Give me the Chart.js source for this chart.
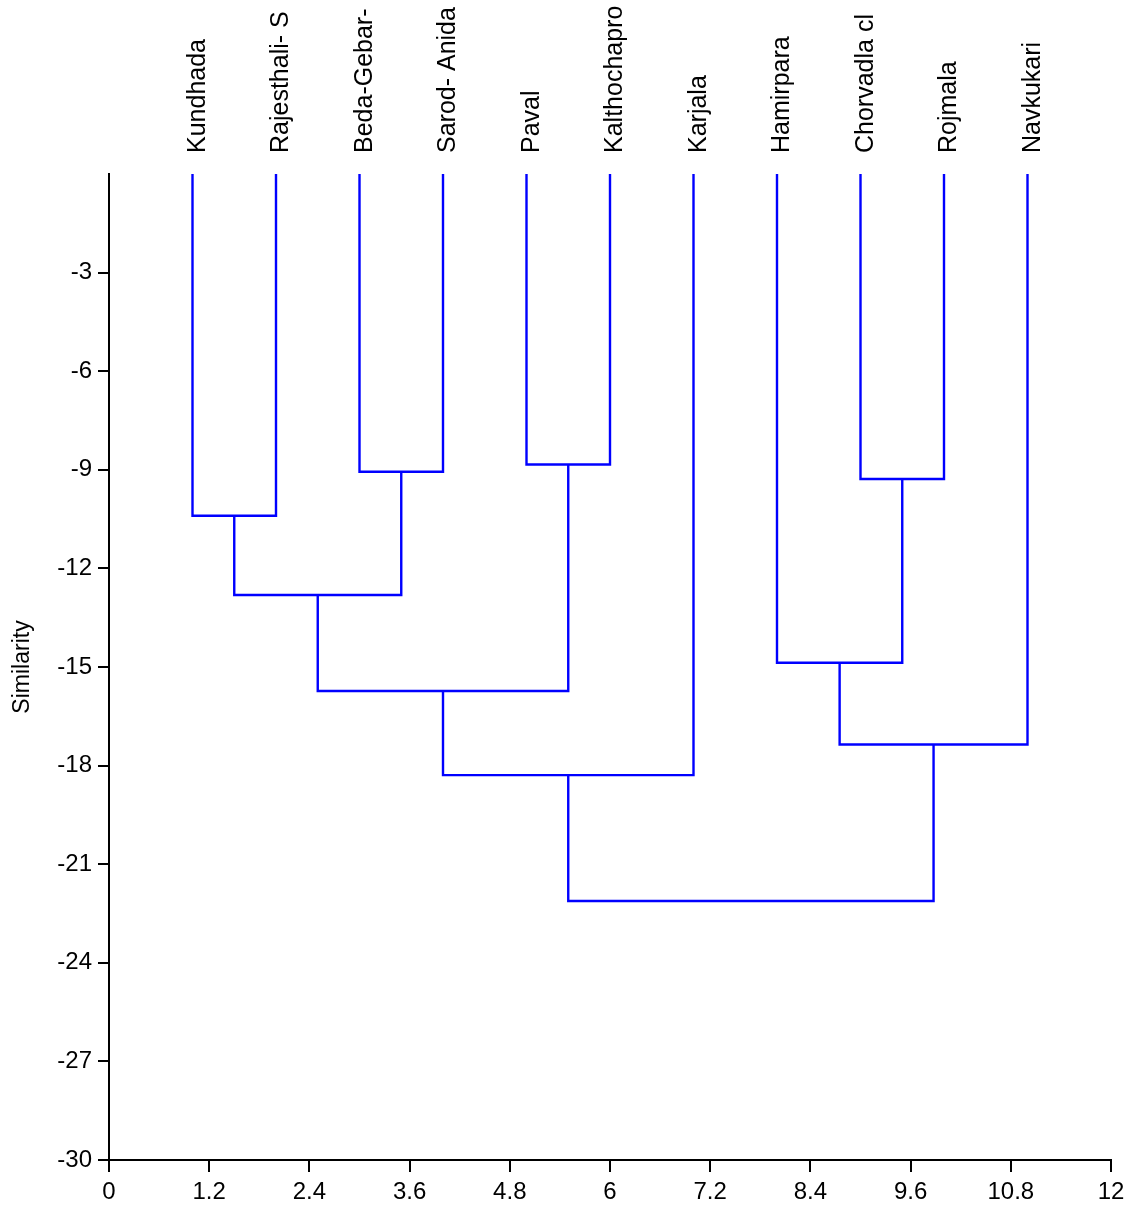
<!DOCTYPE html>
<html><head><meta charset="utf-8">
<script src="https://cdn.jsdelivr.net/npm/chart.js@4.4.1/dist/chart.umd.min.js"></script>
<style>html,body{margin:0;padding:0;background:#fff;overflow:hidden}</style>
</head><body>
<canvas id="c" width="1132" height="1209"></canvas>
<script>
// ---- data ----
const leafLabels = ['Kundhada','Rajesthali- S','Beda-Gebar-','Sarod- Anida','Paval','Kalthochapro','Karjala','Hamirpara','Chorvadla cl','Rojmala','Navkukari'];
const leafPositions = [1,2,3,4,5,6,7,8,9,10,11];
// merges: node indices (0..10 leaves, 11+ merged clusters in order)
const mergeLeft   = [0, 2, 4, 8, 11, 7, 15, 16, 17, 19];
const mergeRight  = [1, 3, 5, 9, 12, 14, 13, 10, 6, 18];
const mergeHeight = [-10.40, -9.06, -8.84, -9.28, -12.81, -14.87, -15.73, -17.36, -18.29, -22.12];
const xTickValues = [0,1.2,2.4,3.6,4.8,6,7.2,8.4,9.6,10.8,12];
const xTickLabels = ['0','1.2','2.4','3.6','4.8','6','7.2','8.4','9.6','10.8','12'];
const yTickValues = [-30,-27,-24,-21,-18,-15,-12,-9,-6,-3];
const yTickLabels = ['-30','-27','-24','-21','-18','-15','-12','-9','-6','-3'];

// ---- build link polylines ----
const nodeX = leafPositions.slice();
const nodeH = leafPositions.map(()=>0);
const datasets = [];
mergeLeft.forEach((l,i)=>{
  const r = mergeRight[i], h = mergeHeight[i];
  datasets.push({
    data:[{x:nodeX[l],y:nodeH[l]},{x:nodeX[l],y:h},{x:nodeX[r],y:h},{x:nodeX[r],y:nodeH[r]}],
    borderColor:'#0000ff', borderWidth:2.4, pointRadius:0, fill:false, tension:0, showLine:true
  });
  nodeX.push((nodeX[l]+nodeX[r])/2);
  nodeH.push(h);
});

Chart.defaults.font.family = "'Liberation Sans', Arial, Helvetica, sans-serif";
Chart.defaults.color = '#000';

const leafLabelPlugin = {
  id:'leafLabels',
  afterDraw(chart){
    const {ctx, scales:{x,y}} = chart;
    ctx.save();
    ctx.font = "25px 'Liberation Sans', Arial, sans-serif";
    ctx.fillStyle = '#000';
    ctx.textAlign = 'left';
    ctx.textBaseline = 'alphabetic';
    leafLabels.forEach((lab,i)=>{
      const px = x.getPixelForValue(leafPositions[i]);
      ctx.save();
      ctx.translate(px+12, y.top-21);
      ctx.rotate(-Math.PI/2);
      ctx.fillText(lab,0,0);
      ctx.restore();
    });
    ctx.restore();
  }
};

new Chart(document.getElementById('c'), {
  type:'scatter',
  data:{datasets},
  options:{
    responsive:false, animation:false,
    layout:{padding:{top:174,right:21,left:0,bottom:0}},
    plugins:{legend:{display:false},tooltip:{enabled:false}},
    scales:{
      x:{
        type:'linear', min:0, max:12,
        afterBuildTicks:s=>{s.ticks = xTickValues.map(v=>({value:v}));},
        afterFit:s=>{s.height = 49;},
        ticks:{callback:(v,i)=>xTickLabels[i], font:{size:24}, padding:6, maxRotation:0, autoSkip:false, color:'#000'},
        grid:{display:true, drawOnChartArea:false, drawTicks:true, tickLength:12, color:'#000', lineWidth:2},
        border:{display:true, color:'#000', width:2}
      },
      y:{
        type:'linear', min:-30, max:0,
        afterBuildTicks:s=>{s.ticks = yTickValues.map(v=>({value:v}));},
        afterFit:s=>{s.width = 109;},
        ticks:{callback:(v,i)=>yTickLabels[i], font:{size:24}, padding:6, autoSkip:false, color:'#000'},
        grid:{display:true, drawOnChartArea:false, drawTicks:true, tickLength:11, color:'#000', lineWidth:2},
        border:{display:true, color:'#000', width:2},
        title:{display:true, text:'Similarity', font:{size:23}, padding:{top:9,bottom:0}, color:'#000'}
      }
    }
  },
  plugins:[leafLabelPlugin]
});
</script>
</body></html>
